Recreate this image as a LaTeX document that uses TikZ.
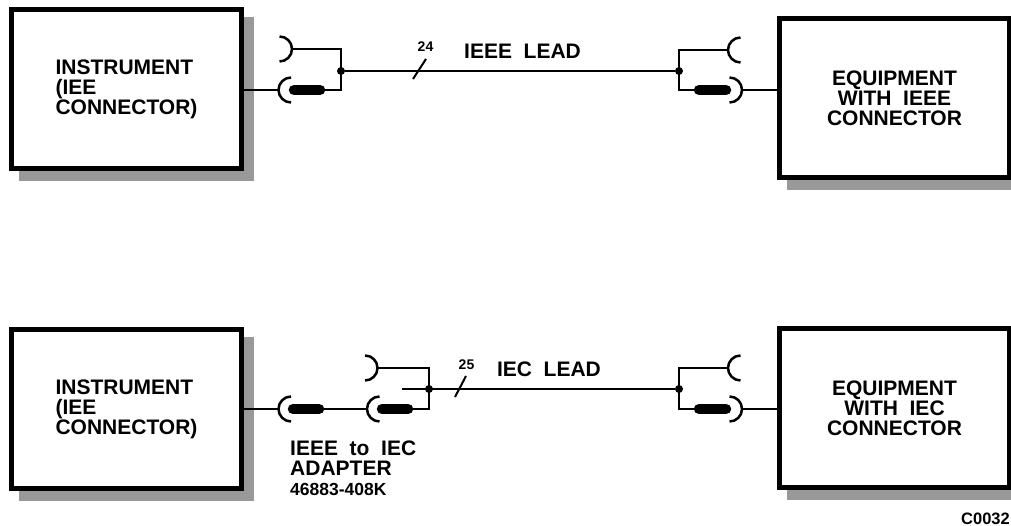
\documentclass[tikz,border=0pt]{standalone}
\usepackage{fontspec}
\setmainfont{Liberation Sans}
\tikzset{
    every node/.style={font=\bfseries},
    box/.style={draw, fill=white, line width=5pt, minimum width=230pt,
        minimum height=159pt, font=\fontsize{21}{20}\selectfont\bfseries},
    boxshadow/.style={fill=black!40},
    wire/.style={line width=2pt},
    pill/.style={line width=10.5pt, line cap=round},
    jdot/.style={circle, fill, inner sep=0pt, minimum size=8pt},
    lbl/.style={inner sep=0pt, font=\fontsize{21}{20}\selectfont\bfseries},
    num/.style={inner sep=0pt, font=\fontsize{14}{16}\selectfont\bfseries},
    pics/lcup/.style={code={
        \draw[line width=2.5pt] (12.5,12.5) arc[start angle=90, end angle=270, radius=12.5];}},
    pics/rcup/.style={code={
        \draw[line width=2.5pt] (-12.5,12.5) arc[start angle=90, end angle=-90, radius=12.5];}}
}
\pgfdeclarelayer{background}
\pgfsetlayers{background,main}

\begin{document}
\begin{tikzpicture}[x=1pt, y=1pt]
  \useasboundingbox (0,0) rectangle (1011,526);

  % top row: IEEE lead
  \node (bA) [box, align=left] at (126.5,436.5) {INSTRUMENT\\(IEE\\CONNECTOR)};
  \node (bB) [box, align=center] at (894.5,427.5) {EQUIPMENT\\WITH~~IEEE\\CONNECTOR};

  \coordinate (s1) at (278.5,436);
  \coordinate (p1a) at (294,436);
  \coordinate (p1b) at (320,436);
  \coordinate (c1) at (341,436);
  \coordinate (c2) at (341,477);
  \coordinate (r1) at (292,477);
  \node (j1) [jdot] at (341,455) {};
  \node (j2) [jdot] at (679,455) {};
  \coordinate (c3) at (679,476);
  \coordinate (c4) at (679,436);
  \coordinate (s2) at (728,476);
  \coordinate (p2a) at (699,436);
  \coordinate (p2b) at (726,436);
  \coordinate (r2) at (742,436);
  \coordinate (sl1a) at (413,447);
  \coordinate (sl1b) at (426,467);

  \node (n24) [num] at (425.5,479.5) {24};
  \node (lead1) [lbl] at (522.5,474.5) {IEEE~~LEAD};

  \draw[wire] (s1 -| bA.east) -- (s1);
  \pic at (s1) {lcup};
  \draw[pill] (p1a) -- (p1b);
  \draw[wire] (p1b) -- (c1) -- (c2) -- (r1);
  \pic at (r1) {rcup};
  \draw[wire] (j1) -- (j2);
  \draw[wire] (sl1a) -- (sl1b);
  \draw[wire] (s2) -- (c3) -- (c4) -- (p2a);
  \pic at (s2) {lcup};
  \draw[pill] (p2a) -- (p2b);
  \pic at (r2) {rcup};
  \draw[wire] (r2) -- (r2 -| bB.west);

  % bottom row: IEC lead with adapter
  \node (bC) [box, align=left] at (126.5,116.5) {INSTRUMENT\\(IEE\\CONNECTOR)};
  \node (bD) [box, align=center] at (894.5,117.5) {EQUIPMENT\\WITH~~IEC\\CONNECTOR};

  \coordinate (s3) at (278.5,117);
  \coordinate (p3a) at (293,117);
  \coordinate (p3b) at (319,117);
  \coordinate (s4) at (367,117);
  \coordinate (p4a) at (382,117);
  \coordinate (p4b) at (408,117);
  \coordinate (c5) at (429,117);
  \coordinate (c6) at (429,158);
  \coordinate (r3) at (377.5,158);
  \coordinate (t1) at (402,137);
  \node (j3) [jdot] at (429,137) {};
  \node (j4) [jdot] at (679,137) {};
  \coordinate (c7) at (679,158);
  \coordinate (c8) at (679,117);
  \coordinate (s5) at (728,158);
  \coordinate (p5a) at (699,117);
  \coordinate (p5b) at (726,117);
  \coordinate (r4) at (742,117);
  \coordinate (sl2a) at (455,129);
  \coordinate (sl2b) at (466,150);

  \node (n25) [num] at (466.5,161) {25};
  \node (lead2) [lbl] at (549,156.5) {IEC~~LEAD};
  \node (ad1) [lbl, anchor=base west] at (290,70) {IEEE~~to~~IEC};
  \node (ad2) [lbl, anchor=base west] at (290,50) {ADAPTER};
  \node (ad3) [lbl, anchor=base west, font=\fontsize{17.5}{19}\selectfont\bfseries]
    at (290,30.5) {46883-408K};

  \draw[wire] (s3 -| bC.east) -- (s3);
  \pic at (s3) {lcup};
  \draw[pill] (p3a) -- (p3b);
  \draw[wire] (p3b) -- (s4);
  \pic at (s4) {lcup};
  \draw[pill] (p4a) -- (p4b);
  \draw[wire] (p4b) -- (c5) -- (c6) -- (r3);
  \pic at (r3) {rcup};
  \draw[wire] (t1) -- (j4);
  \draw[wire] (sl2a) -- (sl2b);
  \draw[wire] (s5) -- (c7) -- (c8) -- (p5a);
  \pic at (s5) {lcup};
  \draw[pill] (p5a) -- (p5b);
  \pic at (r4) {rcup};
  \draw[wire] (r4) -- (r4 -| bD.west);

  \node (code) [inner sep=0pt, anchor=base east, font=\fontsize{16.5}{18}\selectfont\bfseries]
    at (1010,1.5) {C0032};

  \begin{pgfonlayer}{background}
    \foreach \b in {bA,bB,bC,bD}
      \fill[boxshadow] ([shift={(10,-10)}]\b.south west) rectangle ([shift={(10,-10)}]\b.north east);
  \end{pgfonlayer}
\end{tikzpicture}
\end{document}
